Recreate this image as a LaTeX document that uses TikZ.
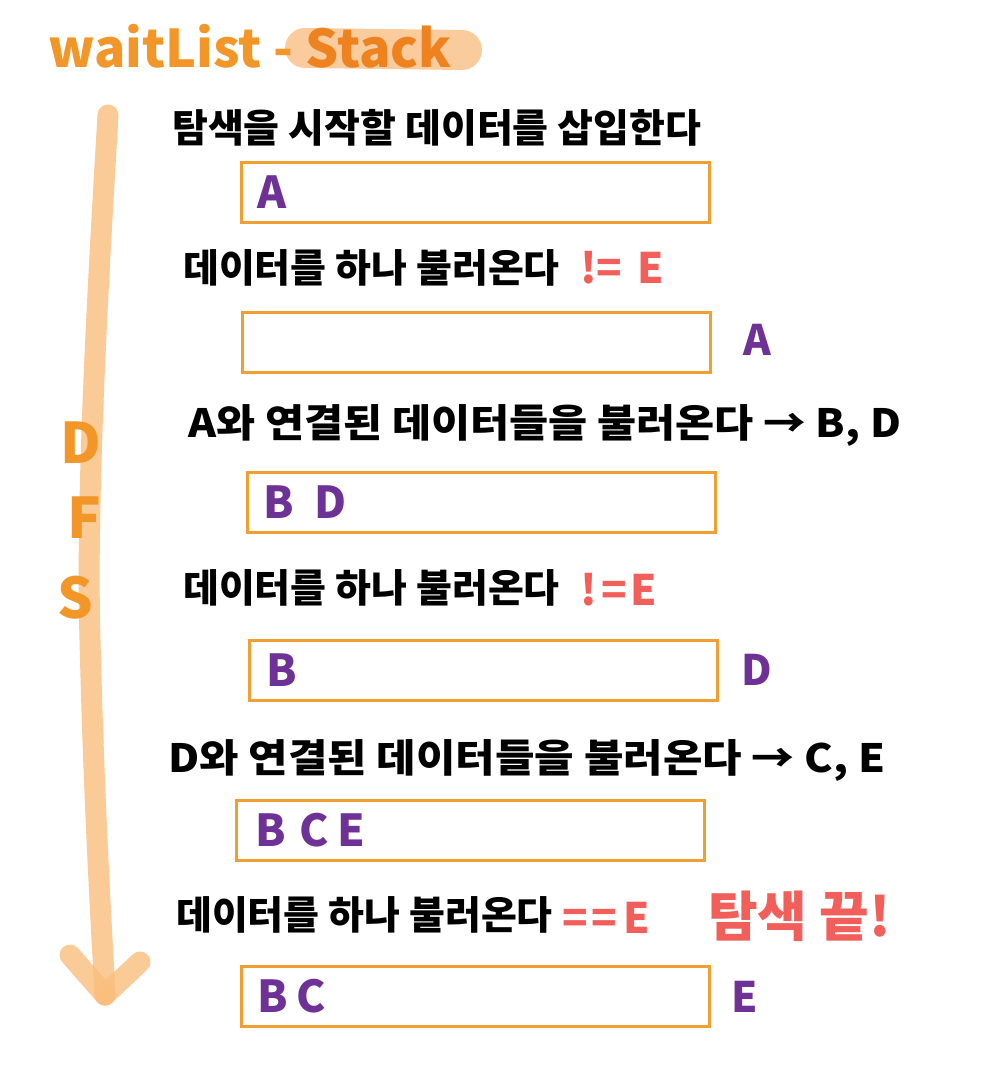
\documentclass[tikz,border=0pt]{standalone}
\usepackage{fontspec}
\setmainfont{Noto Sans CJK KR}
\definecolor{boxorange}{RGB}{240,160,50}
\definecolor{letterpurple}{RGB}{110,50,150}
\definecolor{notered}{RGB}{242,95,90}
\definecolor{titleorange}{RGB}{242,150,40}
\definecolor{stackorange}{RGB}{238,130,30}
\definecolor{hilite}{RGB}{250,195,140}
\definecolor{arrowcol}{RGB}{250,190,125}
\tikzset{
  stackbox/.style={draw=boxorange, line width=3pt, minimum width=468pt, minimum height=60pt, inner sep=0pt},
  content/.style={text=letterpurple, font=\fontsize{44}{46}\selectfont\bfseries, anchor=west, inner sep=0pt},
  popped/.style={text=letterpurple, font=\fontsize{42}{44}\selectfont\bfseries, inner sep=0pt},
  step text/.style={text=black, font=\fontsize{39}{42}\selectfont\bfseries, anchor=west, inner sep=0pt},
  cmp/.style={text=notered, font=\fontsize{42}{44}\selectfont\bfseries, anchor=west, inner sep=0pt},
  dfsletter/.style={text=titleorange, font=\fontsize{56}{58}\selectfont\bfseries, inner sep=0pt},
  flowline/.style={draw=arrowcol, line width=21pt, line cap=round, line join=round, opacity=0.8}
}
\begin{document}
\begin{tikzpicture}[x=1pt,y=-1pt]
\useasboundingbox (0,0) rectangle (1000,1090);
\fill[white] (0,0) rectangle (1000,1090);

% title
\draw[hilite, line width=40pt, line cap=round, opacity=0.85] (305,48) -- (462,50);
\node[text=titleorange, font=\fontsize{52}{54}\selectfont\bfseries, anchor=west, inner sep=0pt] (title) at (48,46) {waitList - \textcolor{stackorange}{Stack}};

% flow arrow
\coordinate (fa) at (108,115);
\coordinate (fm) at (90,640);
\coordinate (ftip) at (105,995);
\coordinate (fl) at (70,955);
\coordinate (fr) at (140,962);
\draw[flowline] (fa) .. controls (97,300) and (86,500) .. (fm) .. controls (94,800) and (100,900) .. (ftip);
\draw[flowline] (fl) -- (ftip);
\draw[flowline] (ftip) -- (fr);

\node[dfsletter] (dD) at (81,443) {D};
\node[dfsletter] (dF) at (84,518) {F};
\node[dfsletter] (dS) at (75,598) {S};

% step 1
\node[step text] (t1) at (172,128) {탐색을 시작할 데이터를 삽입한다};
\node[stackbox] (b1) at (475.5,192) {};
\node[content] (c1) at ([xshift=17pt]b1.west) {A};

% step 2
\node[step text] (t2) at (183,268) {데이터를 하나 불러온다};
\node[cmp] (r2) at (580,268) {!=\hspace{0.35em}E};
\node[stackbox] (b2) at (476,342) {};
\node[popped] (p2) at (757,340) {A};

% step 3
\node[step text] (t3) at (188,425) {\scalebox{1.09}[1]{A와 연결된 데이터들을 불러온다 → B, D}};
\node[stackbox] (b3) at (481,502) {};
\node[content] (c3) at ([xshift=18pt]b3.west) {B\hspace{0.45em}D};

% step 4
\node[step text] (t4) at (183,588) {데이터를 하나 불러온다};
\node[cmp] (r4) at (580,590) {!\hspace{0.1em}=\hspace{0.1em}E};
\node[stackbox] (b4) at (483,670) {};
\node[content] (c4) at ([xshift=19pt]b4.west) {B};
\node[popped] (p4) at (757,670) {D};

% step 5
\node[step text] (t5) at (168,760) {\scalebox{1.1}[1]{D와 연결된 데이터들을 불러온다 → C, E}};
\node[stackbox] (b5) at (470,830) {};
\node[content] (c5) at ([xshift=21pt]b5.west) {B\hspace{0.3em}C\hspace{0.2em}E};

% step 6
\node[step text] (t6) at (176,915) {데이터를 하나 불러온다};
\node[cmp] (r6) at (562,918) {=\hspace{0.1em}=\hspace{0.15em}E};
\node[text=notered, font=\fontsize{54}{56}\selectfont\bfseries, anchor=west, inner sep=0pt] (end) at (708,916) {탐색 끝!};
\node[stackbox] (b6) at (475.5,996) {};
\node[content] (c6) at ([xshift=17pt]b6.west) {B\hspace{0.2em}C};
\node[popped] (p6) at (745,997) {E};
\end{tikzpicture}
\end{document}
